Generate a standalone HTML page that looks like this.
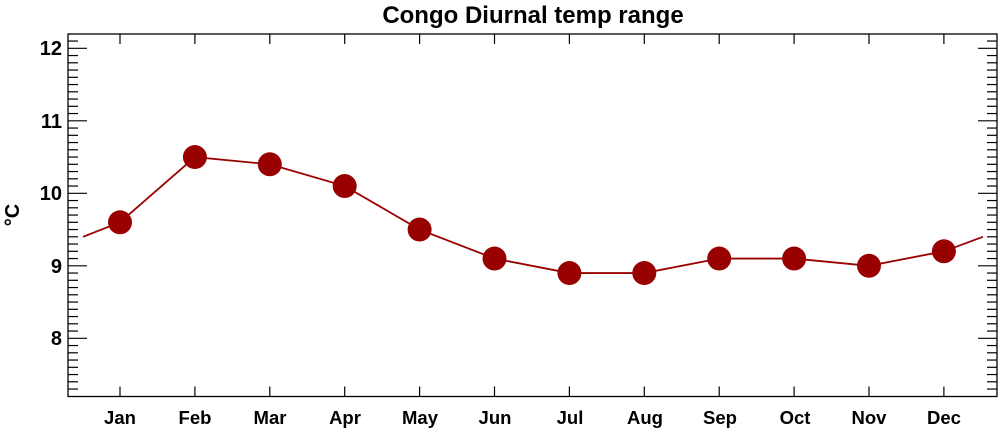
<!DOCTYPE html>
<html><head><meta charset="utf-8"><style>
html,body{margin:0;padding:0;background:#fff;width:1000px;height:432px;overflow:hidden}
text{font-family:"Liberation Sans",Arial,sans-serif;font-weight:bold;fill:#000}
</style></head><body>
<svg id="s" width="1000" height="432" viewBox="0 0 1000 432" xmlns="http://www.w3.org/2000/svg">
<rect x="68" y="34" width="929" height="362.5" fill="none" stroke="#000" stroke-width="1.3"/>
<g id="ticks" stroke="#000" stroke-width="1.2"></g>
<text x="533" y="23" font-size="24" text-anchor="middle">Congo Diurnal temp range</text>
<g font-size="20" text-anchor="end">
<text x="62" y="55">12</text>
<text x="62" y="128">11</text>
<text x="62" y="200">10</text>
<text x="62" y="273">9</text>
<text x="62" y="345">8</text>
</g>
<text transform="translate(19,215) rotate(-90)" font-size="20" text-anchor="middle">°C</text>
<g font-size="18.5" text-anchor="middle">
<text x="120" y="424">Jan</text><text x="195" y="424">Feb</text><text x="270" y="424">Mar</text>
<text x="345" y="424">Apr</text><text x="420" y="424">May</text><text x="495" y="424">Jun</text>
<text x="570" y="424">Jul</text><text x="645" y="424">Aug</text><text x="720" y="424">Sep</text>
<text x="795" y="424">Oct</text><text x="869" y="424">Nov</text><text x="944" y="424">Dec</text>
</g>
<g id="data"></g>
</svg>
<script>
var ns="http://www.w3.org/2000/svg";
function Y(v){return 338.3-(v-8)*72.5}
function X(i){return 120+i*74.9}
var t=document.getElementById("ticks");
function ln(g,x1,y1,x2,y2){var l=document.createElementNS(ns,"line");l.setAttribute("x1",x1);l.setAttribute("y1",y1);l.setAttribute("x2",x2);l.setAttribute("y2",y2);g.appendChild(l)}
for(var k=73;k<=121;k++){var y=Y(k/10),L=(k%10==0)?19:10;ln(t,68,y,68+L,y);ln(t,997,y,997-L,y);}
for(var i=0;i<12;i++){var x=X(i);ln(t,x,396.5,x,386.5);ln(t,x,34,x,44);}
var d=[9.6,10.5,10.4,10.1,9.5,9.1,8.9,8.9,9.1,9.1,9.0,9.2];
var g=document.getElementById("data");
var pts=[[83,Y(9.4)]];for(i=0;i<12;i++)pts.push([X(i),Y(d[i])]);pts.push([983,Y(9.4)]);
var p=document.createElementNS(ns,"polyline");p.setAttribute("points",pts.map(function(a){return a.join(",")}).join(" "));
p.setAttribute("fill","none");p.setAttribute("stroke","#990000");p.setAttribute("stroke-width","1.8");g.appendChild(p);
for(i=0;i<12;i++){var c=document.createElementNS(ns,"circle");c.setAttribute("cx",X(i));c.setAttribute("cy",Y(d[i]));c.setAttribute("r","12");c.setAttribute("fill","#990000");g.appendChild(c);}
</script>
</body></html>
